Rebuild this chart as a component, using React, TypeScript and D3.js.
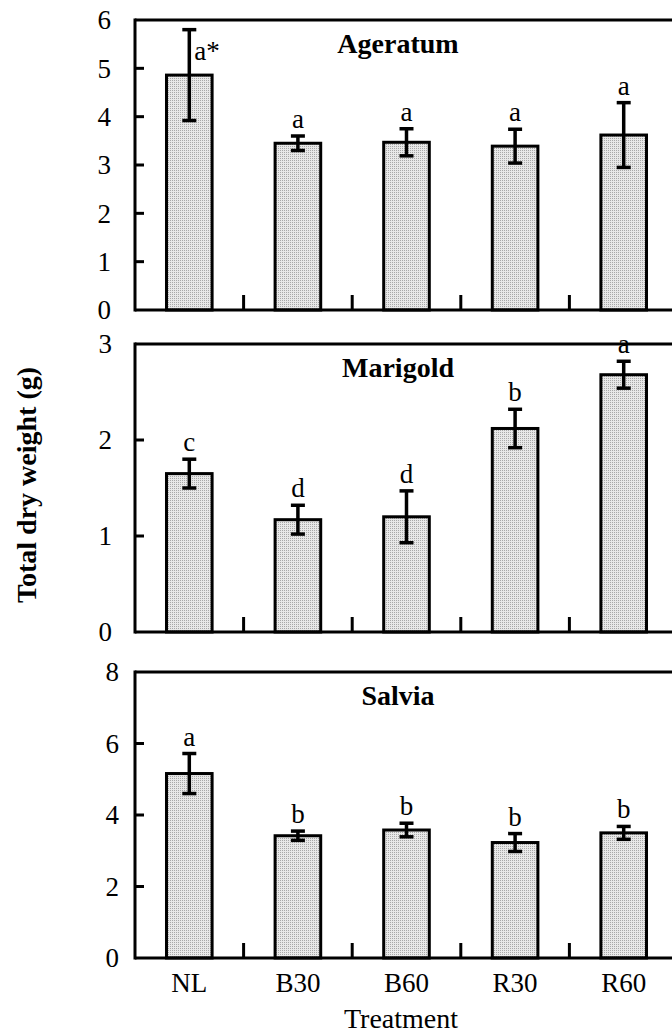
import React, { useRef, useEffect } from 'react';
import * as d3 from 'd3';

// treatments on the x axis
const treatments = ['NL', 'B30', 'B60', 'R30', 'R60'];

// Ageratum
const ageratumMean = [4.86, 3.45, 3.47, 3.39, 3.62];
const ageratumErr = [0.94, 0.15, 0.28, 0.35, 0.67];
const ageratumLetters = ['a*', 'a', 'a', 'a', 'a'];

// Marigold
const marigoldMean = [1.65, 1.17, 1.2, 2.12, 2.68];
const marigoldErr = [0.15, 0.15, 0.27, 0.2, 0.14];
const marigoldLetters = ['c', 'd', 'd', 'b', 'a'];

// Salvia
const salviaMean = [5.16, 3.42, 3.58, 3.23, 3.5];
const salviaErr = [0.56, 0.13, 0.19, 0.25, 0.18];
const salviaLetters = ['a', 'b', 'b', 'b', 'b'];

const yTicksAgeratum = [0, 1, 2, 3, 4, 5, 6];
const yTicksMarigold = [0, 1, 2, 3];
const yTicksSalvia = [0, 2, 4, 6, 8];

const W = 672;
const H = 1036;
const left = 135;
const right = 678;
const serif = "'Liberation Serif', 'Times New Roman', serif";

const panels = [
  { name: 'Ageratum', means: ageratumMean, errs: ageratumErr, letters: ageratumLetters, ticks: yTicksAgeratum, top: 20, bottom: 310, labelX: 111 },
  { name: 'Marigold', means: marigoldMean, errs: marigoldErr, letters: marigoldLetters, ticks: yTicksMarigold, top: 344, bottom: 632, labelX: 112 },
  { name: 'Salvia', means: salviaMean, errs: salviaErr, letters: salviaLetters, ticks: yTicksSalvia, top: 672, bottom: 958, labelX: 119 },
];

const App = () => {
  const svgRef = useRef<SVGSVGElement>(null);

  useEffect(() => {
    const svg = d3.select(svgRef.current);
    svg.selectAll('*').remove();

    const pat = svg.append('defs').append('pattern')
      .attr('id', 'stipple')
      .attr('patternUnits', 'userSpaceOnUse')
      .attr('width', 2).attr('height', 2);
    pat.append('rect').attr('width', 2).attr('height', 2).attr('fill', '#e8e8e8');
    pat.append('rect').attr('width', 1).attr('height', 1).attr('fill', '#a8a8a8');

    const x = d3.scaleBand<string>()
      .domain(treatments)
      .range([left, right])
      .paddingInner(0.58)
      .paddingOuter(0.29);
    const step = x.step();

    panels.forEach(p => {
      const y = d3.scaleLinear()
        .domain([0, d3.max(p.ticks) as number])
        .range([p.bottom, p.top]);
      const g = svg.append('g');

      // bars
      g.selectAll('.bar')
        .data(p.means)
        .enter()
        .append('rect')
        .attr('x', (d, i) => x(treatments[i]) as number)
        .attr('y', d => y(d))
        .attr('width', x.bandwidth())
        .attr('height', d => p.bottom - y(d))
        .attr('fill', 'url(#stipple)')
        .attr('stroke', '#000')
        .attr('stroke-width', 3);

      // error bars + letters
      p.means.forEach((m, i) => {
        const cx = (x(treatments[i]) as number) + x.bandwidth() / 2;
        const hi = y(m + p.errs[i]);
        const lo = y(m - p.errs[i]);
        g.append('line').attr('x1', cx).attr('x2', cx).attr('y1', hi).attr('y2', lo)
          .attr('stroke', '#000').attr('stroke-width', 3.5);
        [hi, lo].forEach(yy => {
          g.append('line').attr('x1', cx - 7).attr('x2', cx + 7).attr('y1', yy).attr('y2', yy)
            .attr('stroke', '#000').attr('stroke-width', 3.5);
        });
        const lab = p.letters[i];
        const star = lab.includes('*');
        g.append('text')
          .attr('x', star ? cx + 5 : cx)
          .attr('y', star ? hi + 30 : hi - 8)
          .attr('text-anchor', star ? 'start' : 'middle')
          .attr('font-family', serif)
          .attr('font-size', 27)
          .text(lab);
      });

      // frame: top border, left axis, baseline
      g.append('line').attr('x1', left).attr('x2', right).attr('y1', p.top).attr('y2', p.top)
        .attr('stroke', '#000').attr('stroke-width', 3);
      g.append('line').attr('x1', left).attr('x2', left).attr('y1', p.top - 1.5).attr('y2', p.bottom + 1.5)
        .attr('stroke', '#000').attr('stroke-width', 3);
      g.append('line').attr('x1', left).attr('x2', right).attr('y1', p.bottom).attr('y2', p.bottom)
        .attr('stroke', '#000').attr('stroke-width', 3);

      // y ticks (inward) and labels
      p.ticks.forEach(t => {
        if (t !== p.ticks[0] && t !== p.ticks[p.ticks.length - 1]) {
          g.append('line').attr('x1', left).attr('x2', left + 9).attr('y1', y(t)).attr('y2', y(t))
            .attr('stroke', '#000').attr('stroke-width', 3);
        }
        g.append('text')
          .attr('x', p.labelX)
          .attr('y', y(t))
          .attr('dy', '0.35em')
          .attr('text-anchor', 'end')
          .attr('font-family', serif)
          .attr('font-size', 27)
          .text(t);
      });

      // category separator ticks
      treatments.slice(1).forEach((c, i) => {
        const tx = left + step * (i + 1);
        g.append('line').attr('x1', tx).attr('x2', tx).attr('y1', p.bottom).attr('y2', p.bottom - 15)
          .attr('stroke', '#000').attr('stroke-width', 3);
      });

      // panel title
      g.append('text')
        .attr('x', 398)
        .attr('y', p.top + 33)
        .attr('text-anchor', 'middle')
        .attr('font-family', serif)
        .attr('font-weight', 'bold')
        .attr('font-size', 28)
        .text(p.name);
    });

    const last = panels[panels.length - 1];
    // x tick labels
    svg.append('g').selectAll('text')
      .data(treatments)
      .enter()
      .append('text')
      .attr('x', d => (x(d) as number) + x.bandwidth() / 2)
      .attr('y', last.bottom + 34)
      .attr('text-anchor', 'middle')
      .attr('font-family', serif)
      .attr('font-size', 27)
      .text(d => d);

    svg.append('text')
      .attr('x', 401)
      .attr('y', 1028)
      .attr('text-anchor', 'middle')
      .attr('font-family', serif)
      .attr('font-size', 28)
      .text('Treatment');

    svg.append('text')
      .attr('transform', 'translate(36,485) rotate(-90)')
      .attr('text-anchor', 'middle')
      .attr('font-family', serif)
      .attr('font-weight', 'bold')
      .attr('font-size', 28)
      .text('Total dry weight (g)');
  }, []);

  return (
    <svg ref={svgRef} width={W} height={H}
      style={{ position: 'absolute', left: 0, top: 0, background: '#fff' }} />
  );
};

export default App;
